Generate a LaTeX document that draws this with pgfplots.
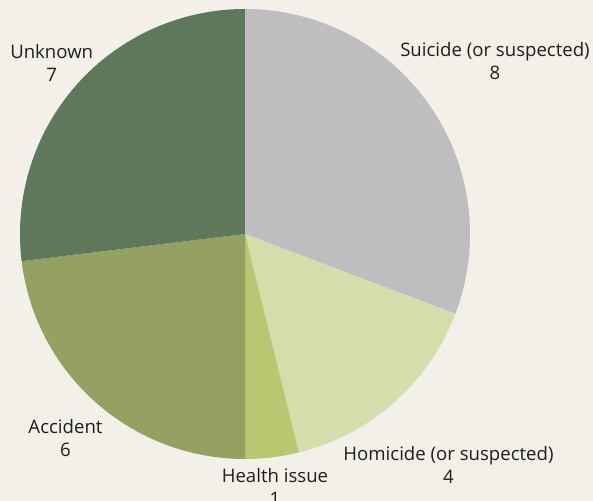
\documentclass[border=0pt]{standalone}
\usepackage{pgfplots}
\usepackage{pgfplotstable}
\pgfplotsset{compat=1.18}
\usepackage{fontspec}
\setmainfont{Open Sans}
\definecolor{bg}{HTML}{F2F0E8}
\definecolor{c0}{HTML}{BFBDBF}
\definecolor{c1}{HTML}{D4DEAD}
\definecolor{c2}{HTML}{B9C870}
\definecolor{c3}{HTML}{95A063}
\definecolor{c4}{HTML}{5E785C}
\definecolor{txt}{HTML}{1E1E1E}
\pgfplotstableread{
value
8
4
1
6
7
}\piedata
\begin{document}
\begin{tikzpicture}
\useasboundingbox (0,0) rectangle (593bp,501bp);
\clip (0,0) rectangle (593bp,501bp);
\begin{axis}[
  at={(0,0)}, anchor=origin,
  x=1bp, y=1bp, xmin=0, xmax=593, ymin=0, ymax=501,
  scale only axis, hide axis, clip=false,
]
\fill[bg] (axis cs:-5,-5) rectangle (axis cs:600,510);
\pgfmathsetmacro\total{0}
\pgfplotsforeachungrouped \i in {0,...,4}{%
  \pgfplotstablegetelem{\i}{value}\of\piedata
  \pgfmathsetmacro\total{\total+\pgfplotsretval}%
}
\pgfmathsetmacro\startang{90}
\pgfplotsforeachungrouped \i in {0,...,4}{%
  \pgfplotstablegetelem{\i}{value}\of\piedata
  \pgfmathsetmacro\endang{\startang-\pgfplotsretval/\total*360}%
  \edef\cmd{\noexpand\fill[c\i] (axis cs:245,267) -- ++(\startang:225bp) arc[start angle=\startang, end angle=\endang, radius=225bp] -- cycle;}%
  \cmd
  \global\let\startang\endang
}
\pgfplotstablegetelem{0}{value}\of\piedata\let\va\pgfplotsretval
\pgfplotstablegetelem{1}{value}\of\piedata\let\vb\pgfplotsretval
\pgfplotstablegetelem{2}{value}\of\piedata\let\vc\pgfplotsretval
\pgfplotstablegetelem{3}{value}\of\piedata\let\vd\pgfplotsretval
\pgfplotstablegetelem{4}{value}\of\piedata\let\ve\pgfplotsretval
\tikzset{lab/.style={align=center, text=txt, font=\fontsize{18.6bp}{23bp}\selectfont, inner sep=0pt}}
\edef\cmd{%
\noexpand\node[lab] at (axis cs:495,439.5) {Suicide (or suspected)\noexpand\\\va};
\noexpand\node[lab] at (axis cs:448.5,36) {Homicide (or suspected)\noexpand\\\vb};
\noexpand\node[lab] at (axis cs:275,14) {Health issue\noexpand\\\vc};
\noexpand\node[lab] at (axis cs:65.5,63) {Accident\noexpand\\\vd};
\noexpand\node[lab] at (axis cs:51.7,438.5) {Unknown\noexpand\\\ve};
}\cmd
\end{axis}
\end{tikzpicture}
\end{document}
